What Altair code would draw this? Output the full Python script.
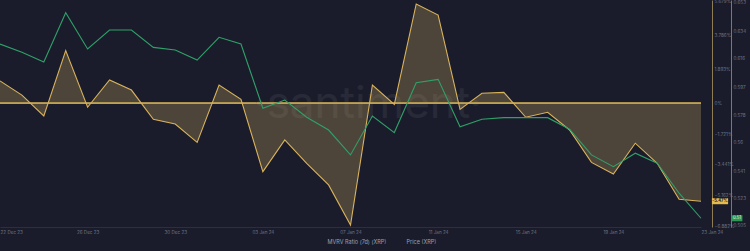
import altair as alt
import pandas as pd

# ---- data ----
dates = pd.date_range("2023-12-22", "2024-01-23", freq="D").strftime("%Y-%m-%d").tolist()
mvrv = [1.25, 0.46, -0.71, 2.94, -0.22, 1.30, 0.74, -0.89, -1.16, -2.18, 1.02, 0.22,
        -3.82, -2.05, -3.35, -4.56, -6.80, 1.02, -0.06, 5.55, 4.93, -0.34, 0.56,
        0.61, -0.78, -0.50, -1.49, -3.30, -3.95, -2.23, -3.35, -5.36, -5.47]
price = [0.6256, 0.6201, 0.6137, 0.6464, 0.6223, 0.6349, 0.6349, 0.6234, 0.6217, 0.6150,
         0.6301, 0.6256, 0.5830, 0.5885, 0.5771, 0.5686, 0.5521, 0.5779, 0.5669, 0.6000,
         0.6022, 0.5708, 0.5757, 0.5768, 0.5768, 0.5768, 0.5691, 0.5521, 0.5443, 0.5532,
         0.5466, 0.5267, 0.5101]
x_tick_days = list(range(0, 33, 4))
x_tick_labels = [pd.Timestamp(dates[i]).strftime("%d %b %y") for i in x_tick_days]
mvrv_ticks = [5.679, 3.786, 1.893, 0, -1.721, -3.441, -5.162, -6.882]
price_ticks = [0.505, 0.523, 0.541, 0.56, 0.578, 0.597, 0.616, 0.634, 0.653]
series_names = ["MVRV Ratio (7d) (XRP)", "Price (XRP)"]

BG = "#1a1c2b"
YEL = "#d9b35c"
GRN = "#30a068"
LBL = "#6f7484"
FONT = "Inter"

df = pd.DataFrame({"day": list(range(len(dates))), "date": dates, "mvrv": mvrv, "price": price})
df["mvrv_label"] = df["mvrv"].map(lambda v: f"{v:.2f}%")
df["price_label"] = df["price"].map(lambda v: f"{v:.2f}")

W, H = 701, 227

label_map = "{" + ",".join(f"'{d}':'{l}'" for d, l in zip(x_tick_days, x_tick_labels)) + "}"

x_enc = alt.X(
    "day:Q",
    scale=alt.Scale(domain=[0, len(dates) - 1], nice=False, zero=False),
    axis=alt.Axis(
        values=x_tick_days,
        labelExpr=f"{label_map}[datum.value + '']",
        title=None, grid=False, ticks=False,
        domainColor="#2b2f40", labelColor=LBL, labelFontSize=4.6, labelFont=FONT,
        labelPadding=2, labelFlush=False, labelOverlap=False,
        labelAlign={"condition": {"test": "datum.value == 0 || datum.value == 32", "value": "left"},
                    "value": "center"},
    ),
)

m_scale = alt.Scale(domain=[-6.91, 5.77], nice=False, zero=False)
m_axis = alt.Axis(
    orient="right", offset=11, values=mvrv_ticks,
    labelExpr="datum.value == 0 ? '0%' : format(datum.value, '.3f') + '%'",
    ticks=False, grid=False, title=None, labelOverlap=False, labelBound=False,
    domainColor="#8d7d55", labelColor=LBL, labelFontSize=4.6, labelFont=FONT, labelPadding=2,
)
y_m = alt.Y("mvrv:Q", scale=m_scale, axis=m_axis)

y_p = alt.Y(
    "price:Q",
    scale=alt.Scale(domain=[0.5043, 0.6548], nice=False, zero=False),
    axis=alt.Axis(
        orient="right", offset=30, values=price_ticks, format=".3~f",
        ticks=False, grid=False, title=None, labelOverlap=False,
        domainColor=GRN, labelColor=LBL, labelFontSize=4.6, labelFont=FONT, labelPadding=2,
    ),
)

color_enc = alt.Color(
    "series:N",
    scale=alt.Scale(domain=series_names, range=[YEL, GRN]),
    legend=alt.Legend(
        title=None, orient="none", legendX=320, legendY=239, direction="horizontal",
        symbolType="square", symbolSize=12, symbolStrokeWidth=0,
        labelColor="#9aa0ae", labelFontSize=5.5, labelFont=FONT, columnPadding=12,
        labelOffset=2,
    ),
)

base = alt.Chart(df)

area = base.mark_area(color="#d4b060", opacity=0.28).encode(
    x=x_enc, y=y_m, y2=alt.datum(0)
)
zero = base.mark_rule(color="#c4a45e", strokeWidth=0.8, opacity=0.4).encode(
    y=alt.YDatum(0, type="quantitative", scale=m_scale, axis=m_axis)
)
mline = base.transform_calculate(series=f"'{series_names[0]}'").mark_line(strokeWidth=1.1).encode(
    x=x_enc, y=y_m, color=color_enc
)
last = base.transform_filter(f"datum.day == {len(dates) - 1}")
mbadge = last.mark_point(
    shape="M-1.35,-0.5H1.35V0.5H-1.35Z", filled=True, color="#e6bb4e", opacity=1, size=144
).encode(x=alt.value(720), y=y_m)
mbadge_t = last.mark_text(fontSize=4.2, font=FONT, color="#1a1c2b", fontWeight="bold").encode(
    x=alt.value(720), y=y_m, text="mvrv_label:N"
)
mvrv_group = alt.layer(area, zero, mline, mbadge, mbadge_t)

pline = base.transform_calculate(series=f"'{series_names[1]}'").mark_line(strokeWidth=1.1).encode(
    x=x_enc, y=y_p, color=color_enc
)
pbadge = last.mark_point(
    shape="M-0.9,-0.5H0.9V0.5H-0.9Z", filled=True, color="#2c9a55", opacity=1, size=144
).encode(x=alt.value(737), y=y_p)
pbadge_t = last.mark_text(fontSize=4.2, font=FONT, color="#e8f5ea").encode(
    x=alt.value(737), y=y_p, text="price_label:N"
)
price_group = alt.layer(pline, pbadge, pbadge_t)

watermark = alt.Chart(pd.DataFrame({"t": ["\u00b7santiment\u00b7"]})).mark_text(
    fontSize=44, font=FONT, color="#ffffff", opacity=0.06
).encode(x=alt.value(368), y=alt.value(105), text="t:N")

chart = (
    alt.layer(watermark, mvrv_group, price_group)
    .resolve_scale(y="independent")
    .properties(
        width=W, height=H, background=BG,
        autosize=alt.AutoSizeParams(type="none"),
        padding={"left": 0, "top": 0, "right": 49, "bottom": 24},
    )
    .configure_view(stroke=None)
)

chart.save("out.html", embed_options={"renderer": "svg", "actions": False})
